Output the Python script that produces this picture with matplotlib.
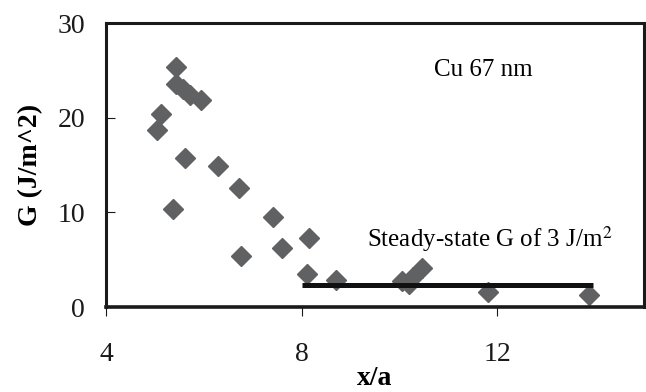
import numpy as np
import matplotlib
matplotlib.use('Agg')
import matplotlib.pyplot as plt

# data
# ========================================
xa = np.array([5.43, 5.44, 5.58, 5.71, 5.95, 5.12, 5.05, 5.61, 6.29, 6.73,
               5.37, 7.41, 8.16, 7.59, 6.77, 8.11, 8.71, 10.05, 10.2, 10.27,
               10.46, 11.82, 13.88])
g = np.array([25.4, 23.6, 23.0, 22.4, 21.9, 20.4, 18.7, 15.7, 14.9, 12.6,
              10.4, 9.5, 7.3, 6.2, 5.4, 3.45, 2.85, 2.75, 2.4, 3.17,
              4.08, 1.62, 1.27])
steady_x = [8.0, 13.95]
steady_g = [2.3, 2.3]
xticks = [4, 8, 12]
yticks = [0, 10, 20, 30]

# style
# ========================================
plt.rcParams['font.family'] = ['Liberation Serif', 'DejaVu Serif']
plt.rcParams['mathtext.fontset'] = 'stix'

fig = plt.figure(figsize=(6.46, 3.92), dpi=100)
ax = fig.add_axes([0.164, 0.2168, 0.833, 0.7245])

ax.plot(xa, g, ls='', marker='D', ms=10, color='#606163', mec='#606163', zorder=2)
ax.plot(steady_x, steady_g, color='#111111', lw=3.6, solid_capstyle='butt', zorder=3)

ax.set_xlim(4, 15)
ax.set_ylim(0, 30)
ax.set_xticks(xticks)
ax.set_yticks(yticks)

for side in ['left', 'right', 'top', 'bottom']:
    ax.spines[side].set_linewidth(2.2)
    ax.spines[side].set_color('#1a1a1a')
ax.spines['bottom'].set_linewidth(2.6)

ax.tick_params(axis='x', direction='out', length=6.5, width=0.8, pad=19,
               labelsize=20, colors='#1a1a1a')
ax.tick_params(axis='y', direction='in', length=6.5, width=0.8, pad=15,
               labelsize=20, colors='#1a1a1a')

ax.set_xlabel('x/a', fontsize=20, fontweight='bold', va='baseline')
ax.xaxis.set_label_coords(0.5, -0.275)
ax.set_ylabel('G (J/m^2)', fontsize=20, fontweight='bold', labelpad=10)

ax.text(11.71, 25.0, 'Cu 67 nm', fontsize=18, ha='center', va='center')
ax.text(9.33, 6.37, 'Steady-state G of 3 J/m$^2$', fontsize=18,
        ha='left', va='baseline')

fig.savefig('out.png', dpi=100)
